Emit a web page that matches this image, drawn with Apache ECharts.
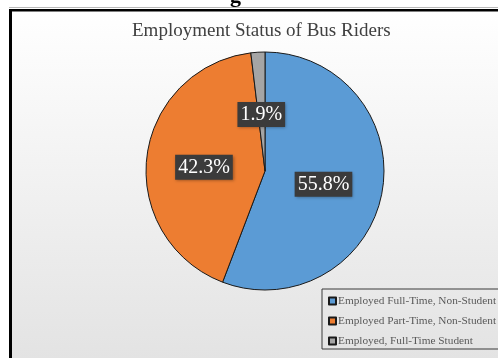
<!DOCTYPE html>
<html>
<head>
<meta charset="utf-8">
<style>
  html, body { margin: 0; padding: 0; background: #ffffff; }
  #chart { width: 498px; height: 358px; }
</style>
<script src="https://cdn.jsdelivr.net/npm/echarts@6/dist/echarts.min.js"></script>
</head>
<body>
<div id="chart"></div>
<script>
// Rider employment categories and their shares (percent)
const categories = [
  'Employed Full-Time, Non-Student',
  'Employed Part-Time, Non-Student',
  'Employed, Full-Time Student'
];
const shares = [55.8, 42.3, 1.9];
const sliceColors = ['#5B9BD5', '#ED7D31', '#A5A5A5'];
const chartTitle = 'Employment Status of Bus Riders';

const chart = echarts.init(document.getElementById('chart'), null, { renderer: 'canvas' });

const serif = '"Liberation Serif", "Times New Roman", serif';

// small nudges for the inside labels
const labelShiftX = [-3, 1, 0];
const labelShiftY = [2, 4, 6];

chart.setOption({
  animation: false,
  graphic: [
    // fragment of the heading above the chart frame
    {
      type: 'text', left: 230, top: -15, z: 0,
      style: { text: 'g', font: 'bold 22px ' + serif, fill: '#000' }
    },
    // chart area with soft vertical shading
    {
      type: 'rect', z: -10,
      shape: { x: 11, y: 10, width: 490, height: 350 },
      style: {
        fill: new echarts.graphic.LinearGradient(0, 0, 0, 1, [
          { offset: 0, color: '#ffffff' },
          { offset: 1, color: '#e3e3e3' }
        ])
      }
    },
    // frame lines
    { type: 'rect', z: -5, shape: { x: 9, y: 7, width: 489, height: 1 }, style: { fill: '#b8b8b8' } },
    { type: 'rect', z: -5, shape: { x: 9, y: 9, width: 489, height: 2.5 }, style: { fill: '#000' } },
    { type: 'rect', z: -5, shape: { x: 9, y: 9, width: 3, height: 349 }, style: { fill: '#000' } }
  ],
  title: {
    text: chartTitle,
    left: 132,
    top: 22,
    padding: 0,
    textStyle: { fontFamily: serif, fontSize: 19, fontWeight: 'normal', color: '#404040' }
  },
  legend: {
    orient: 'vertical',
    left: 322,
    top: 289,
    padding: [6, 5, 2, 6],
    itemWidth: 7,
    itemHeight: 7,
    itemGap: 8,
    icon: 'rect',
    borderColor: '#3a3a3a',
    borderWidth: 1,
    textStyle: { fontFamily: serif, fontSize: 11.3, color: '#595959', lineHeight: 12, padding: [0, 0, 0, -3] },
    data: categories
  },
  series: [{
    type: 'pie',
    center: [265, 171],
    radius: 119,
    startAngle: 90,
    clockwise: true,
    avoidLabelOverlap: false,
    itemStyle: { borderColor: '#1a1a1a', borderWidth: 1 },
    emphasis: { disabled: true },
    label: {
      show: true,
      position: 'inside',
      formatter: p => p.value.toFixed(1) + '%',
      fontFamily: serif,
      fontSize: 20,
      color: '#ffffff',
      backgroundColor: '#3b3b3b',
      padding: [3, 3, 2, 3],
      shadowColor: 'rgba(0,0,0,0.35)',
      shadowBlur: 3,
      shadowOffsetX: 1,
      shadowOffsetY: 1
    },
    labelLayout: p => ({ dx: labelShiftX[p.dataIndex], dy: labelShiftY[p.dataIndex] }),
    labelLine: { show: false },
    data: categories.map((name, i) => ({
      name,
      value: shares[i],
      itemStyle: { color: sliceColors[i] }
    }))
  }]
});
</script>
</body>
</html>
